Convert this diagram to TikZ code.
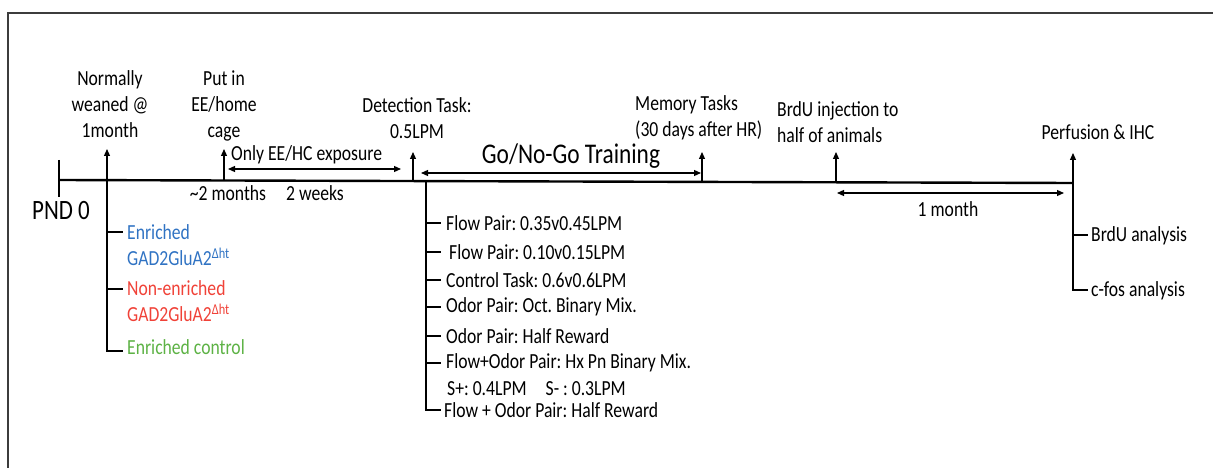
\documentclass[tikz,border=0pt]{standalone}
\usepackage{fontspec}
\setmainfont[FakeStretch=0.82]{Carlito}
\usetikzlibrary{arrows.meta}
\definecolor{eblue}{RGB}{48,115,195}
\definecolor{ered}{RGB}{240,66,56}
\definecolor{egreen}{RGB}{93,178,69}
\definecolor{frame}{RGB}{60,60,60}
\frenchspacing
\begin{document}
\begin{tikzpicture}[x=1pt,y=-1pt,
  font=\fontsize{21.5}{26}\selectfont,
  txt/.style={inner sep=0pt,align=center},
  ltxt/.style={inner sep=0pt,anchor=west,align=left},
  uparr/.style={-{Triangle[length=7pt,width=6pt]},line width=1.2pt},
  dblarr/.style={{Triangle[length=7pt,width=6pt]}-{Triangle[length=7pt,width=6pt]},line width=1.2pt},
  thin/.style={line width=1.2pt},
  mainline/.style={line width=2.4pt}]
\useasboundingbox (0,0) rectangle (1213,468);
% frame
\draw[frame,line width=1.6pt] (8,468) -- (8,13) -- (1213,13);

% timeline
\coordinate (start) at (59,180);
\coordinate (stop) at (1073,183);
\draw[mainline] (start) -- (stop);
\coordinate (st) at (59,160);
\coordinate (sb) at (59,197);
\draw[thin] (st) -- (sb);
\node[inner sep=0pt,font=\fontsize{28}{30}\selectfont] (pnd) at (61,211) {PND 0};

% weaning
\coordinate (t1) at (107,180.1);
\coordinate (t1a) at (107,149);
\draw[uparr] (t1) -- (t1a);
\node[txt] (wean) at (110,104) {Normally\\weaned @\\1month};
\coordinate (g1) at (107,232);
\coordinate (g2) at (107,289);
\coordinate (g3) at (107,351);
\coordinate (g1e) at (123,232);
\coordinate (g2e) at (123,289);
\coordinate (g3e) at (123,351);
\draw[thin] (t1) -- (g3) -- (g3e);
\draw[thin] (g1) -- (g1e);
\draw[thin] (g2) -- (g2e);
\node[ltxt,text=eblue] (enr) at (127,232) {Enriched};
\node[ltxt,text=eblue] (enrg) at (127,257) {GAD2GluA2\textsuperscript{Δht}};
\node[ltxt,text=ered] (non) at (127,288) {Non-enriched};
\node[ltxt,text=ered] (nong) at (127,313) {GAD2GluA2\textsuperscript{Δht}};
\node[ltxt,text=egreen] (ctl) at (127,347) {Enriched control};

% EE
\coordinate (t2) at (224,180.5);
\coordinate (t2a) at (224,149);
\draw[uparr] (t2) -- (t2a);
\node[txt] (ee) at (224,106) {Put in\\EE/home\\cage};
\node[ltxt] (only) at (231,155) {Only EE/HC exposure};
\coordinate (e1) at (228,169);
\coordinate (e2) at (401,169);
\draw[dblarr] (e1) -- (e2);
\node[txt] (twom) at (228,193) {\textasciitilde2 months};
\node[txt] (twow) at (315,193) {2 weeks};

% detection
\coordinate (t3) at (413,181);
\coordinate (t3a) at (413,152);
\draw[uparr] (t3) -- (t3a);
\node[txt] (det) at (417,118) {Detection Task:\\0.5LPM};
\node[txt,font=\fontsize{28.5}{30}\selectfont] (gng) at (571,156) {Go/No-Go Training};
\coordinate (g3l) at (421,173);
\coordinate (g3r) at (701,173);
\draw[dblarr] (g3l) -- (g3r);

% training list
\coordinate (l0) at (426,181.1);
\coordinate (lb) at (426,410);
\coordinate (lbe) at (441,410);
\draw[thin] (l0) -- (lb) -- (lbe);
\foreach \yy/\nm in {223/a,252/b,280/c,307/d,336/e,363/f}{
  \coordinate (k\nm) at (426,\yy);
  \coordinate (ke\nm) at (441,\yy);
  \draw[thin] (k\nm) -- (ke\nm);
}
\node[ltxt] (la) at (446,223) {Flow Pair: 0.35v0.45LPM};
\node[ltxt] (lbn) at (449,252) {Flow Pair: 0.10v0.15LPM};
\node[ltxt] (lc) at (446,280) {Control Task: 0.6v0.6LPM};
\node[ltxt] (ld) at (446,307) {Odor Pair: Oct. Binary Mix.};
\node[ltxt] (le) at (446,336) {Odor Pair: Half Reward};
\node[ltxt] (lf) at (446,363) {Flow+Odor Pair: Hx Pn Binary Mix.};
\node[ltxt] (lg) at (447,389) {S+: 0.4LPM\hspace{0.7em} S- : 0.3LPM};
\node[ltxt] (lh) at (444,410) {Flow + Odor Pair: Half Reward};

% memory
\coordinate (t4) at (702,181.9);
\coordinate (t4a) at (702,152);
\draw[uparr] (t4) -- (t4a);
\node[inner sep=0pt,anchor=west,align=left] (mem) at (635,118) {Memory Tasks\\(30 days after HR)};

% BrdU
\coordinate (t5) at (836,182.3);
\coordinate (t5a) at (836,152);
\draw[uparr] (t5) -- (t5a);
\node[inner sep=0pt,anchor=west,align=left] (brdu) at (777,122) {BrdU injection to\\half of animals};
\coordinate (m1) at (837,193);
\coordinate (m2) at (1064,193);
\draw[dblarr] (m1) -- (m2);
\node[txt] (onem) at (948,209) {1 month};

% perfusion
\coordinate (t6a) at (1073,153);
\draw[uparr] (stop) -- (t6a);
\node[txt] (perf) at (1098,132) {Perfusion \& IHC};
\coordinate (r1) at (1073,235);
\coordinate (r1e) at (1088,235);
\coordinate (r2) at (1073,290);
\coordinate (r2e) at (1088,290);
\draw[thin] (stop) -- (r2) -- (r2e);
\draw[thin] (r1) -- (r1e);
\node[ltxt] (ba) at (1091,236) {BrdU analysis};
\node[ltxt] (ca) at (1091,291) {c-fos analysis};
\end{tikzpicture}
\end{document}
